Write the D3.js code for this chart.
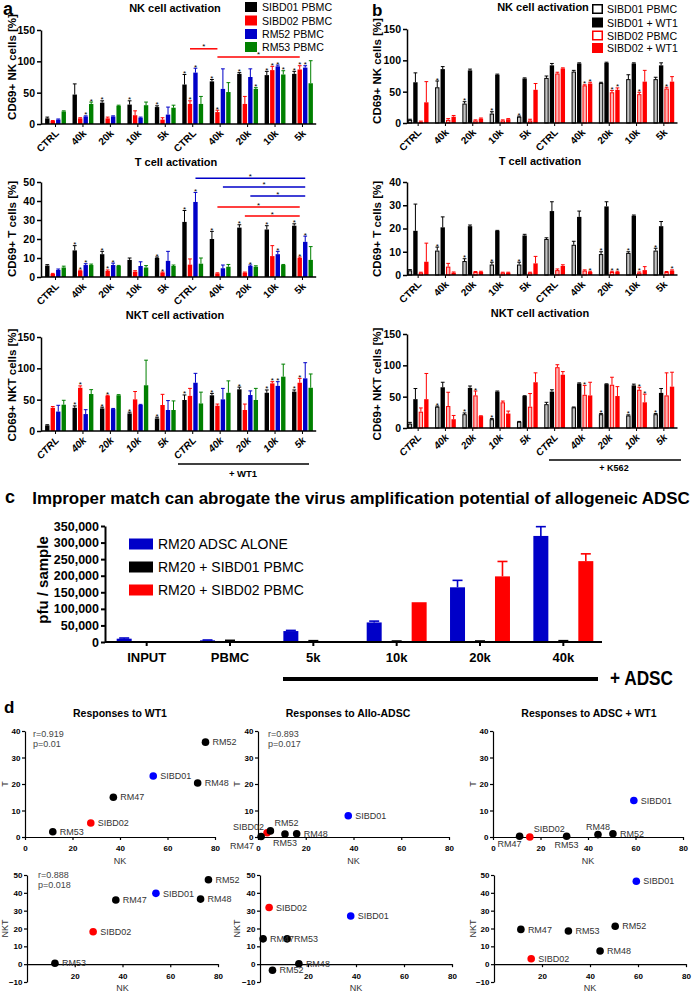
<!DOCTYPE html>
<html><head><meta charset="utf-8">
<script src="https://cdn.jsdelivr.net/npm/d3@7"></script>
<style>
body{margin:0;background:#fff;}
svg{display:block;font-family:"Liberation Sans",Arial,sans-serif;}
</style></head><body>
<svg id="c" width="692" height="992"></svg>
<script>
// ---------------- DATA ----------------
const groupLabels = ["CTRL","40k","20k","10k","5k","CTRL","40k","20k","10k","5k"];
const aSeries = ["SIBD01 PBMC","SIBD02 PBMC","RM52 PBMC","RM53 PBMC"];
const bSeries = ["SIBD01 PBMC","SIBD01 + WT1","SIBD02 PBMC","SIBD02 + WT1"];
const cellTitles = ["NK cell activation","T cell activation","NKT cell activation"];
const yLabels = ["CD69+ NK cells [%]","CD69+ T cells [%]","CD69+ NKT cells [%]"];
const nkTicks = [0,50,100,150];
const tTicksA = [0,10,20,30,40,50];
const tTicksB = [0,10,20,30,40];
const aUnder = "+ WT1";
const bUnder = "+ K562";

// panel a : NK
const aNK_mean = [[9,47,34,31,27,63,68,80,78,80],[5,9,9,14,7,32,19,32,86,87],[7,12,12,10,15,82,56,75,92,90],[20,32,29,30,26,32,51,56,79,65]];
const aNK_sd   = [[2,17,3,6,2,16,3,2,6,4],[0.5,1,2,7,3,5,3,12,6,6],[1,1,1,1,12,7,32,13,2,3],[1,3,1,5,4,12,15,2,6,36]];
const aNK_sig  = [[0,0,1,1,1,1,1,1,1,1],[0,0,0,0,0,1,1,0,1,1],[0,1,0,0,0,1,0,0,1,1],[0,1,0,0,0,0,0,1,1,0]];
const aNK_comp = [[5,6,1,120],[6,9,1,107]]; // [fromGroup, toGroup, series, level]
// panel a : T
const aT_mean = [[6,14,12,9,10,29,20,26,25,27],[1.6,3.3,3.2,2.8,2.3,6.5,1.9,2.3,11,10],[3.7,6.3,6.3,5.8,8.5,39.5,4.6,5.8,12,18.5],[5,6.3,5.8,5,5.8,7,5.4,5.4,6.3,9]];
const aT_sd   = [[0.5,2.5,1.5,1,0.5,6,4,1.5,2,1],[0.3,0.3,0.5,0.5,0.3,3,0.3,0.3,5.5,0.5],[0.5,0.7,1,2.2,5,5,1.7,0.5,1.5,3],[0.7,0.5,0.3,1,0.5,3,1.2,0.5,0.3,7]];
const aT_sig  = [[0,1,1,0,1,1,1,1,1,1],[0,1,1,0,1,0,0,0,0,1],[0,1,1,0,0,1,0,1,1,1],[0,0,0,0,0,0,0,0,0,0]];
const aT_comp = [[5,9,2,52],[6,9,2,47.4],[7,9,2,42.6],[6,9,1,36.8],[7,9,1,32.1]];
// panel a : NKT
const aNKT_mean = [[9,37,36,28,20,49.5,57,66.5,61,62.8],[37,69,56,50.5,41.5,56,40.4,33.5,76,77],[31,27,35,41.5,33.5,77,50.5,57.4,72,84],[42,59,57,73,33.5,44,61,49.5,86.7,69]];
const aNKT_sd   = [[1,3,2,2,2,8,3,3.5,4.5,2.7],[2,3,1,12.5,17,12,2.6,9.5,2.7,7],[10,7,1,1,15,15,17.5,6.6,6.7,25],[7,7,1,40,14.5,18,19,18.5,20,22]];
const aNKT_sig  = [[0,1,1,1,1,1,1,1,1,1],[0,1,1,0,0,0,0,0,1,1],[0,0,0,0,0,0,0,0,1,0],[0,0,0,0,0,0,0,0,0,0]];
// panel b : NK
const bNK_mean = [[5,57,31,15,10,72,82,64,70,70],[65,86,84,77,71,92,95,96,95,92],[2,5,4,4,4,79,60,49,46,55],[33,10,7,6,53,87,63,53,66,66]];
const bNK_sd   = [[1,10,3,3,1,3,2,1,7,3],[15,4,2,1,1,3,1,1,1,4],[1,2,1,1,2,2,1,3,3,2],[33,2,1,1,10,1,2,3,18,8]];
const bNK_sig  = [[0,1,1,1,1,0,0,0,0,0],[0,0,0,0,0,0,0,0,0,0],[0,0,0,0,0,0,1,1,1,1],[0,0,0,0,0,0,1,1,0,0]];
// panel b : T
const bT_mean = [[2,10.5,6,4.5,4.5,15.5,13,9,9.5,10.5],[19,20.5,21,19,17,27.5,25,29.5,25.5,21],[1,3.6,1.3,1,1,2.1,1.9,1.3,1,1.3],[5.7,1,1.3,1,5,3.9,1.3,1.3,2.1,1.9]];
const bT_sd   = [[0.3,1.5,1,1,1,0.5,1.5,1,0.5,1],[11.5,4.5,0.5,0.2,0.5,4,2.5,2,0.3,2],[0.2,1.4,0.2,0.2,0.2,0.5,0.3,0.3,0.3,0.2],[8,0.3,0.3,0.2,3,0.5,0.3,0.3,1.5,0.3]];
const bT_sig  = [[0,1,1,1,1,0,0,1,1,1],[0,0,0,0,0,0,0,0,0,0],[0,0,0,0,0,0,0,1,1,0],[0,0,0,0,0,0,1,1,0,1]];
// panel b : NKT
const bNKT_mean = [[7,34,22,14,10,38,33,22,20,22],[46,65,64,58,51,58,71,70,68,56],[26,35,52,41,34,97,53,69,61,52],[46,14,19,23,73,85,52,51,41,66]];
const bNKT_sd   = [[2,1,2,1,0.5,3,0.5,1,1,1],[17,8,3,1,0.5,3,1,0.5,2,7],[6,22,7,2,21,4,15,12,4,36],[41,6,0.5,4,15,5,21,15,13,23]];
const bNKT_sig  = [[0,1,1,1,0,0,0,1,1,1],[0,0,0,0,0,0,0,0,0,0],[0,0,1,0,0,0,1,0,1,0],[0,0,0,0,0,0,0,0,1,0]];

// panel c
const cTitle = "Improper match can abrogate the virus amplification potential of allogeneic ADSC";
const cGroups = ["INPUT","PBMC","5k","10k","20k","40k"];
const cSeries = ["RM20 ADSC ALONE","RM20 + SIBD01 PBMC","RM20 + SIBD02 PBMC"];
const cMean = [[10000,5000,33000,59000,165000,320000],[0,2500,2000,1000,1000,2000],[0,1000,1500,120000,198000,244000]];
const cSd   = [[2000,1000,2000,4000,21000,28000],[0,2500,2000,2000,2000,2000],[0,0,0,0,45000,22000]];
const cTicks = [0,50000,100000,150000,200000,250000,300000,350000];
const cYLabel = "pfu / sample";
const cUnder = "+ ADSC";

// panel d
const dTitles = ["Responses to WT1","Responses to Allo-ADSC","Responses to ADSC + WT1"];
const dNames = ["SIBD01","SIBD02","RM47","RM48","RM52","RM53"];
const wt1NK  = [54,27.7,37.2,72.7,76,11.7];
const wt1T   = [23,5.3,15,20.4,35.8,2];
const wt1NKT = [39.7,18.2,36,36.5,47.3,0.5];
const alloNK  = [37.8,3.8,1.3,16.2,5.2,11.3];
const alloT   = [8,1.6,0.2,1.2,2.3,1.1];
const alloNKT = [27,31.8,14.2,0.2,-3.4,14.2];
const comboNK  = [59.3,15.5,11.2,44.2,50.5,31];
const comboT   = [13.8,0,0.3,0.9,1.2,0.3];
const comboNKT = [46.5,3,19.5,7.4,21.3,18.6];
const stWT1T = ["r=0.919","p=0.01"];
const stAlloT = ["r=0.893","p=0.017"];
const stWT1NKT = ["r=0.888","p=0.018"];
const dUpperY = [0,10,20,30,40];
const dLowerY = [-10,0,10,20,30,40,50];
const dUpperX = [0,20,40,60,80];
const dLowerX = [20,40,60,80];

// ---------------- DRAW ----------------
const FONT = '"Liberation Sans", Arial, sans-serif';
const svg = d3.select("#c");

function txt(g, x, y, s, o = {}) {
  const t = g.append("text").attr("x", x).attr("y", y).text(s)
    .attr("font-size", o.size || 10).attr("font-weight", o.bold ? "bold" : "normal")
    .attr("text-anchor", o.anchor || "start").attr("fill", o.fill || "#000");
  if (o.rotate) t.attr("transform", `rotate(${o.rotate},${x},${y})`);
  if (o.italic) t.attr("font-style", "italic");
  return t;
}
function styleAxis(sel, size, width, bold = true) {
  sel.attr("font-family", FONT);
  sel.select(".domain").attr("stroke", "#000").attr("stroke-width", width);
  sel.selectAll(".tick line").attr("stroke", "#000").attr("stroke-width", width);
  sel.selectAll(".tick text").attr("font-size", size).attr("font-weight", bold ? "bold" : "normal").attr("fill", "#000");
}

const aColors = ["#000000", "#ff0000", "#0000c8", "#008000"];
const bColors = ["#000000", "#000000", "#ff0000", "#ff0000"];
const bOpen = [true, false, true, false];
const openFill = { "#000000": "#c4c4c4", "#ff0000": "#ffb4b4" };

function barChart(c) {
  const g = svg.append("g");
  const x0 = d3.scaleBand().domain(d3.range(groupLabels.length)).range(c.xr);
  const xi = d3.scaleBand().domain(d3.range(c.mean.length)).range([0, x0.bandwidth()]).paddingInner(0.2).paddingOuter(0.6);
  const y = d3.scaleLinear().domain(c.dom).range([c.y0, c.yTop]);
  const bw = xi.bandwidth();
  c.mean.forEach((vals, si) => {
    const col = c.colors[si], open = c.open ? c.open[si] : false;
    const sg = g.append("g");
    sg.selectAll("rect").data(vals).join("rect")
      .attr("x", (d, i) => x0(i) + xi(si) + (open ? 0.5 : 0))
      .attr("width", bw - (open ? 1 : 0))
      .attr("y", d => y(d) + (open ? 0.5 : 0))
      .attr("height", d => Math.max(0, c.y0 - y(d) - (open ? 0.5 : 0)))
      .attr("fill", open ? openFill[col] : col)
      .attr("stroke", open ? col : "none").attr("stroke-width", 1);
    vals.forEach((d, i) => {
      const cx = x0(i) + xi(si) + bw / 2, top = y(d + c.sd[si][i]);
      sg.append("line").attr("x1", cx).attr("x2", cx).attr("y1", y(d)).attr("y2", top).attr("stroke", col).attr("stroke-width", 1);
      sg.append("line").attr("x1", cx - bw / 2 + 0.3).attr("x2", cx + bw / 2 - 0.3).attr("y1", top).attr("y2", top).attr("stroke", col).attr("stroke-width", 1);
      if (c.sig[si][i]) txt(sg, cx, top + 1.5, "*", { size: 8, anchor: "middle" });
    });
  });
  // y axis
  const ya = g.append("g").attr("transform", `translate(${c.axisX},0)`)
    .call(d3.axisLeft(y).tickValues(c.ticks).tickSize(4).tickSizeOuter(0).tickPadding(2));
  styleAxis(ya, 10.5, 1.5);
  // x axis
  g.append("line").attr("x1", c.axisX).attr("x2", c.xr[1]).attr("y1", c.y0).attr("y2", c.y0)
    .attr("stroke", "#000").attr("stroke-width", 1.5);
  const tk = g.selectAll(".xt").data(groupLabels).join("g").attr("class", "xt")
    .attr("transform", (d, i) => `translate(${x0(i) + x0.bandwidth() / 2},${c.y0})`);
  tk.append("line").attr("y1", 0).attr("y2", 3).attr("stroke", "#000").attr("stroke-width", 1);
  tk.append("text").text(d => d).attr("text-anchor", "end").attr("font-size", 10).attr("font-weight", "bold")
    .attr("font-style", c.italic ? "italic" : "normal")
    .attr("transform", "translate(4,10) rotate(-45)");
  // comparisons
  (c.comps || []).forEach(([a, b, si, v]) => {
    const xa = x0(a) + xi(si) + bw / 2, xb = x0(b) + xi(si) + bw / 2, yy = y(v);
    g.append("line").attr("x1", xa).attr("x2", xb).attr("y1", yy).attr("y2", yy).attr("stroke", c.colors[si]).attr("stroke-width", 1.5);
    txt(g, (xa + xb) / 2, yy + 0.5, "*", { size: 8, anchor: "middle" });
  });
  // title / y label
  txt(g, c.titleX, c.titleY, c.title, { size: 11, bold: true, anchor: "middle" });
  txt(g, c.ylabX, c.ylabY, c.ylabel, { size: 11.5, bold: true, anchor: "middle", rotate: -90 });
  return { x0, y };
}

// panel letters
txt(svg, 3, 15, "a", { size: 18, bold: true });
txt(svg, 372, 16, "b", { size: 17, bold: true });
txt(svg, 5, 503, "c", { size: 18, bold: true });
txt(svg, 4, 713, "d", { size: 17, bold: true });

// panel a
const aXR = [41.8, 316.2];
barChart({ xr: aXR, axisX: 41, y0: 124, yTop: 30, dom: [0, 150], ticks: nkTicks, mean: aNK_mean, sd: aNK_sd, sig: aNK_sig, colors: aColors, comps: aNK_comp, title: cellTitles[0], titleX: 175, titleY: 12, ylabel: yLabels[0], ylabX: 16, ylabY: 67 });
barChart({ xr: aXR, axisX: 41, y0: 277, yTop: 182, dom: [0, 50], ticks: tTicksA, mean: aT_mean, sd: aT_sd, sig: aT_sig, colors: aColors, comps: aT_comp, title: cellTitles[1], titleX: 176, titleY: 166, ylabel: yLabels[1], ylabX: 16, ylabY: 229 });
barChart({ xr: aXR, axisX: 41, y0: 431, yTop: 337, dom: [0, 150], ticks: nkTicks, mean: aNKT_mean, sd: aNKT_sd, sig: aNKT_sig, colors: aColors, italic: true, title: cellTitles[2], titleX: 175, titleY: 319, ylabel: yLabels[2], ylabX: 16, ylabY: 385 });
// legend a
const la = svg.append("g");
aSeries.forEach((s, i) => {
  const yy = [7, 20.5, 34, 47][i];
  la.append("rect").attr("x", 245).attr("y", yy - 5).attr("width", 12).attr("height", 10).attr("fill", aColors[i]);
  txt(la, 262, yy + 4, s, { size: 10.6 });
});
svg.append("line").attr("x1", 178).attr("x2", 309).attr("y1", 464).attr("y2", 464).attr("stroke", "#000").attr("stroke-width", 1.5);
txt(svg, 243, 477, aUnder, { size: 9.5, bold: true, anchor: "middle" });

// panel b
const bXR = [404.5, 677.5];
barChart({ xr: bXR, axisX: 407, y0: 123, yTop: 29, dom: [0, 150], ticks: nkTicks, mean: bNK_mean, sd: bNK_sd, sig: bNK_sig, colors: bColors, open: bOpen, title: cellTitles[0], titleX: 543, titleY: 11, ylabel: yLabels[0], ylabX: 381, ylabY: 71 });
barChart({ xr: bXR, axisX: 407, y0: 275, yTop: 182, dom: [0, 40], ticks: tTicksB, mean: bT_mean, sd: bT_sd, sig: bT_sig, colors: bColors, open: bOpen, title: cellTitles[1], titleX: 540, titleY: 165, ylabel: yLabels[1], ylabX: 381, ylabY: 229 });
barChart({ xr: bXR, axisX: 407, y0: 428, yTop: 334, dom: [0, 150], ticks: nkTicks, mean: bNKT_mean, sd: bNKT_sd, sig: bNKT_sig, colors: bColors, open: bOpen, italic: true, title: cellTitles[2], titleX: 540, titleY: 317, ylabel: yLabels[2], ylabX: 381, ylabY: 384 });
const lb = svg.append("g");
bSeries.forEach((s, i) => {
  const yy = [9, 22.5, 35.5, 48][i];
  lb.append("rect").attr("x", bOpen[i] ? 592.75 : 592).attr("y", yy - 5 + (bOpen[i] ? 0.75 : 0))
    .attr("width", bOpen[i] ? 9.5 : 11).attr("height", bOpen[i] ? 8.5 : 10)
    .attr("fill", bOpen[i] ? "#fff" : bColors[i]).attr("stroke", bOpen[i] ? bColors[i] : "none").attr("stroke-width", 1.5);
  txt(lb, 607, yy + 4, s, { size: 10.6 });
});
svg.append("line").attr("x1", 549).attr("x2", 681).attr("y1", 460).attr("y2", 460).attr("stroke", "#000").attr("stroke-width", 1.5);
txt(svg, 614, 471, bUnder, { size: 9, bold: true, anchor: "middle" });

// panel c
(function () {
  const g = svg.append("g");
  const t = txt(g, 361, 504, cTitle, { size: 15, bold: true, anchor: "middle" });
  const w = t.node().getComputedTextLength();
  if (w > 0) t.attr("font-size", 15 * 658 / w);
  const cColors = ["#0000c8", "#000000", "#ff0000"];
  const x0 = d3.scaleBand().domain(cGroups).range([105, 605]);
  const xi = d3.scaleBand().domain([0, 1, 2]).range([0, x0.bandwidth()]).paddingInner(0.333).paddingOuter(0.52);
  const y = d3.scaleLinear().domain([0, 350000]).range([642, 526]);
  const bw = xi.bandwidth();
  cMean.forEach((vals, si) => {
    const sg = g.append("g");
    sg.selectAll("rect").data(vals).join("rect")
      .attr("x", (d, i) => x0(cGroups[i]) + xi(si)).attr("width", bw)
      .attr("y", d => y(d)).attr("height", d => y(0) - y(d)).attr("fill", cColors[si]);
    vals.forEach((d, i) => {
      const s = cSd[si][i];
      if (s <= 0) return;
      const cx = x0(cGroups[i]) + xi(si) + bw / 2, top = y(d + s);
      sg.append("line").attr("x1", cx).attr("x2", cx).attr("y1", y(d)).attr("y2", top).attr("stroke", cColors[si]).attr("stroke-width", 1.6);
      sg.append("line").attr("x1", cx - 5).attr("x2", cx + 5).attr("y1", top).attr("y2", top).attr("stroke", cColors[si]).attr("stroke-width", 1.6);
    });
  });
  const ya = g.append("g").attr("transform", "translate(105,0)")
    .call(d3.axisLeft(y).tickValues(cTicks).tickSize(4).tickSizeOuter(0).tickPadding(2).tickFormat(d3.format(",")));
  styleAxis(ya, 12.5, 2);
  const xa = g.append("g").attr("transform", "translate(0,642)")
    .call(d3.axisBottom(x0).tickSize(4).tickSizeOuter(0).tickPadding(7));
  styleAxis(xa, 13, 2);
  xa.select(".domain").attr("d", "M105,0H602");
  txt(g, 48, 580, cYLabel, { size: 15, bold: true, anchor: "middle", rotate: -90 });
  cSeries.forEach((s, i) => {
    const yy = [544, 567, 590][i];
    g.append("rect").attr("x", 129).attr("y", yy - 5.5).attr("width", 24).attr("height", 11).attr("fill", cColors[i]);
    txt(g, 158, yy + 5, s, { size: 14 });
  });
  g.append("line").attr("x1", 283).attr("x2", 598).attr("y1", 679).attr("y2", 679).attr("stroke", "#000").attr("stroke-width", 4);
  txt(g, 610, 685, cUnder, { size: 20, bold: true }).attr("textLength", 63).attr("lengthAdjust", "spacingAndGlyphs");
})();

// panel d
const dColor = n => n === "SIBD01" ? "#0000ff" : n === "SIBD02" ? "#ff0000" : "#000000";
const place = {
  r: (x, y) => [x + 7, y + 3.2, "start"],
  ul: (x, y) => [x - 3, y - 3, "end"],
  bl: (x, y) => [x + 2, y + 11, "end"],
  bll: (x, y) => [x - 7, y + 13, "end"],
  ur: (x, y) => [x + 4, y - 5, "start"],
  b: (x, y) => [x, y + 12, "middle"],
  u: (x, y) => [x, y - 5, "middle"]
};
function scatter(c) {
  const g = svg.append("g");
  const x = d3.scaleLinear().domain([0, 80]).range(c.xr);
  const y = d3.scaleLinear().domain(c.ydom).range(c.yr);
  const ya = g.append("g").attr("transform", `translate(${x(0)},0)`)
    .call(d3.axisLeft(y).tickValues(c.yticks).tickSize(3).tickSizeOuter(0).tickPadding(1.5));
  styleAxis(ya, 8, 1.2);
  const xa = g.append("g").attr("transform", `translate(0,${y(0)})`)
    .call(d3.axisBottom(x).tickValues(c.xticks).tickSize(3).tickSizeOuter(0).tickPadding(c.xpad));
  styleAxis(xa, 8, 1.2);
  const pts = dNames.map((n, i) => ({ n, nk: c.nk[i], v: c.v[i] }));
  g.selectAll("circle").data(pts).join("circle")
    .attr("cx", d => x(d.nk)).attr("cy", d => y(d.v)).attr("r", 3.8).attr("fill", d => dColor(d.n));
  pts.forEach(d => {
    const [lx, ly, an] = place[(c.place && c.place[d.n]) || "r"](x(d.nk), y(d.v));
    txt(g, lx, ly, d.n, { size: 9, anchor: an, fill: "#333" });
  });
  if (c.stats) c.stats.forEach((s, i) => txt(g, c.statX, c.statY + i * 10, s, { size: 9, fill: "#444" }));
  txt(g, (c.xr[0] + c.xr[1]) / 2, c.nkY, "NK", { size: 9, anchor: "middle", fill: "#333" });
  txt(g, c.ylX, (c.yr[0] + c.yr[1]) / 2, c.ylab, { size: 9, anchor: "middle", rotate: -90, fill: "#333" });
}
dTitles.forEach((t, i) => txt(svg, [120, 348, 589][i], 717, t, { size: 10.5, bold: true, anchor: "middle" }));
const up = { ydom: [0, 40], yr: [837, 731], yticks: dUpperY, xticks: dUpperX, xpad: 5, nkY: 864, ylab: "T" };
const lo = { ydom: [-10, 50], yr: [982, 875], yticks: dLowerY, xticks: dLowerX, xpad: 6, nkY: 991, ylab: "NKT" };
scatter({ ...up, xr: [25, 215], nk: wt1NK, v: wt1T, stats: stWT1T, statX: 33, statY: 737, ylX: 8 });
scatter({ ...up, xr: [258, 449], nk: alloNK, v: alloT, stats: stAlloT, statX: 268, statY: 737, ylX: 240,
  place: { SIBD02: "ul", RM47: "bll", RM52: "ur", RM53: "b" } });
scatter({ ...up, xr: [493, 683], nk: comboNK, v: comboT, ylX: 476,
  place: { RM48: "u", RM53: "b", SIBD02: "ur", RM47: "bl" } });
scatter({ ...lo, xr: [27, 218], nk: wt1NK, v: wt1NKT, stats: stWT1NKT, statX: 38, statY: 878, ylX: 8 });
scatter({ ...lo, xr: [260, 452], nk: alloNK, v: alloNKT, ylX: 240 });
scatter({ ...lo, xr: [494, 686], nk: comboNK, v: comboNKT, ylX: 476 });
</script></body></html>
